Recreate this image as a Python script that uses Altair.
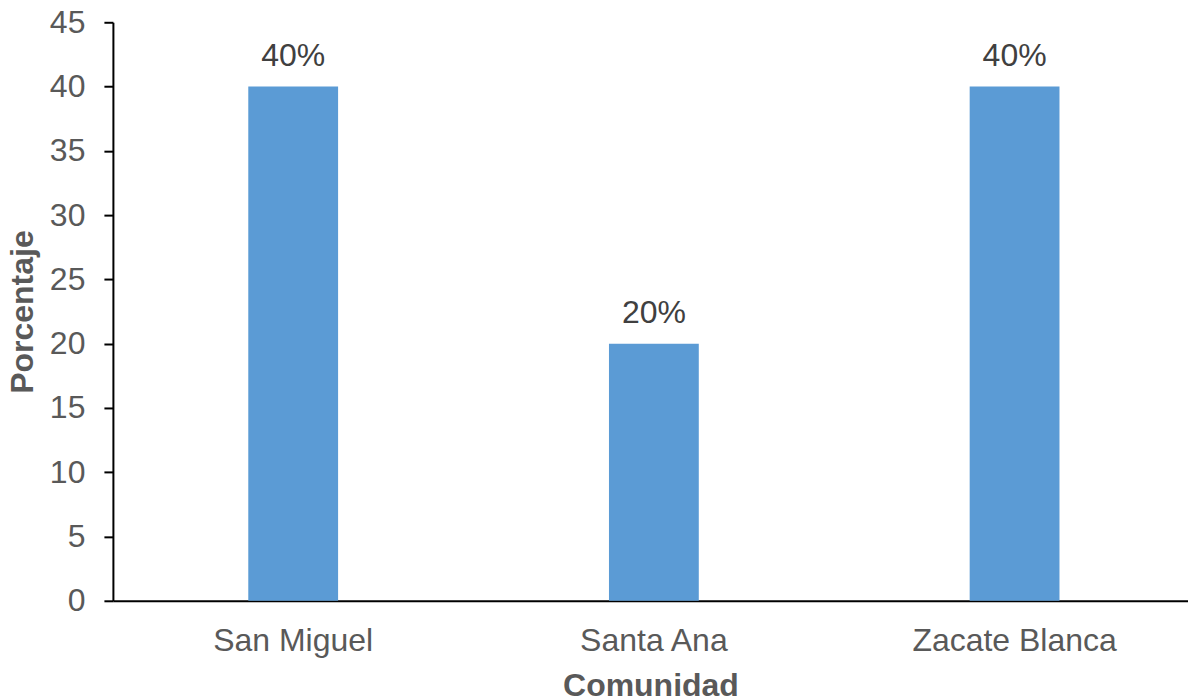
import altair as alt
import pandas as pd

comunidades = ["San Miguel", "Santa Ana", "Zacate Blanca"]
porcentajes = [40, 20, 40]
etiquetas = ["40%", "20%", "40%"]

df = pd.DataFrame({"Comunidad": comunidades, "Porcentaje": porcentajes, "Etiqueta": etiquetas})

FONT = "Liberation Sans"

x = alt.X("Comunidad:N", sort=comunidades,
          scale=alt.Scale(paddingInner=0.751, paddingOuter=0.3658, align=0.513),
          axis=alt.Axis(title="Comunidad", labelAngle=0, ticks=False, labelPadding=25, labelLimit=0,
                        titlePadding=14, domainColor="black", domainWidth=2,
                        labelFont=FONT, labelFontSize=32, labelColor="#595959",
                        titleFont=FONT, titleFontSize=32, titleFontWeight="bold", titleColor="#595959"))
y = alt.Y("Porcentaje:Q",
          scale=alt.Scale(domain=[0, 45], nice=False),
          axis=alt.Axis(title="Porcentaje", values=list(range(0, 50, 5)), grid=False,
                        tickSize=9, tickColor="black", tickWidth=2, labelPadding=19,
                        titlePadding=10, domainColor="black", domainWidth=2,
                        labelFont=FONT, labelFontSize=32, labelColor="#595959",
                        titleFont=FONT, titleFontSize=32, titleFontWeight="bold", titleColor="#595959"))

bars = alt.Chart(df).mark_bar(color="#5B9BD5").encode(x=x, y=y)
text = alt.Chart(df).mark_text(font=FONT, fontSize=32, color="#404040", baseline="alphabetic", dy=-21).encode(
    x=alt.X("Comunidad:N", sort=comunidades), y="Porcentaje:Q", text="Etiqueta:N")

chart = (bars + text).properties(width=1076, height=579,
                                 padding={"left": 6, "top": 6, "right": 0, "bottom": 0}).configure_view(stroke=None)

chart.save("out.html", embed_options={"renderer": "svg", "actions": False})
